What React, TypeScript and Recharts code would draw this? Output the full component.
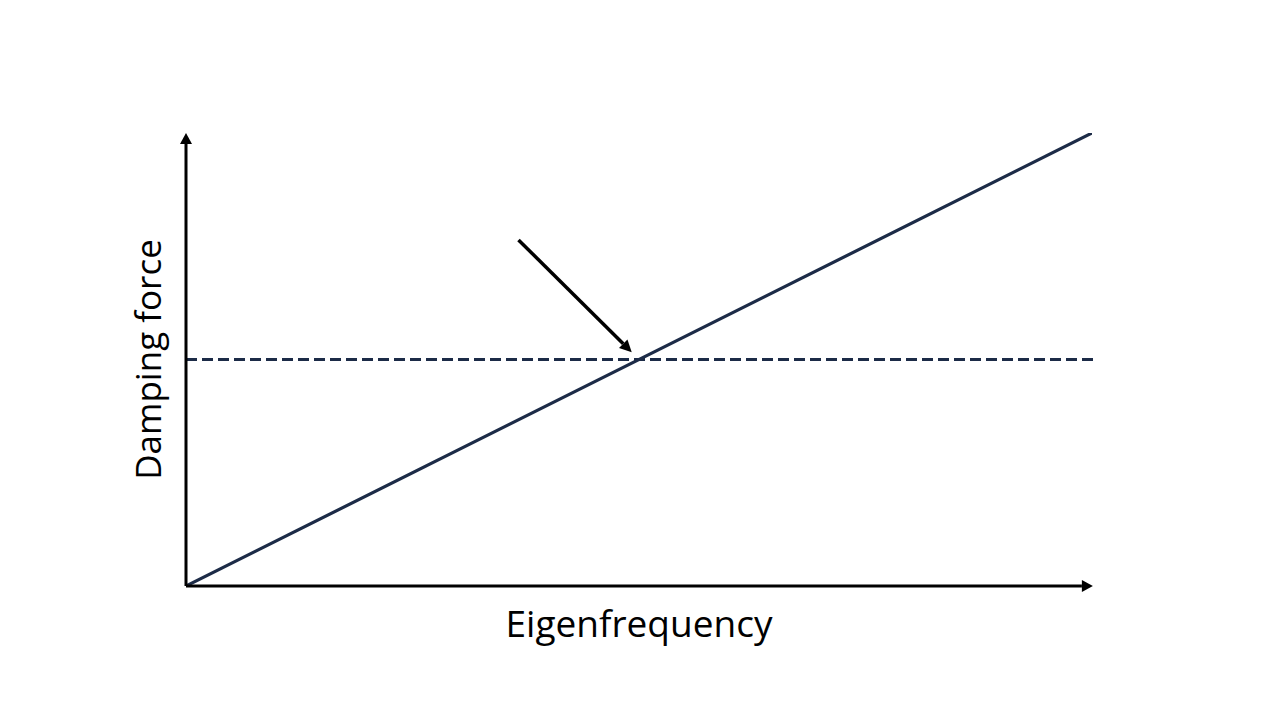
import { LineChart, Line, XAxis, YAxis, ReferenceLine } from "recharts";

// values (arbitrary units, axes have no ticks)
const eigenfrequency = [0, 10];
const dampingForce = [0, 10];
const criticalLevel = 5;
const dashEnd = 10.03;
const xAxisEnd = 10.01;
const yAxisEnd = 10.0;
const pointerFrom = { x: 3.67, y: 7.64 };
const pointerTo = { x: 4.92, y: 5.16 };

const chartData = eigenfrequency.map((f, i) => ({ f, force: dampingForce[i] }));

const NAVY = "#1c2b47";
const FONT = "'Open Sans', sans-serif";

// line with a filled triangular head at (x2, y2)
const arrowShape = (strokeWidth: number, headLen: number, headHalf: number) => (props: any) => {
  const { x1, y1, x2, y2 } = props;
  const ang = Math.atan2(y2 - y1, x2 - x1);
  const bx = x2 - headLen * Math.cos(ang);
  const by = y2 - headLen * Math.sin(ang);
  const px = -Math.sin(ang) * headHalf;
  const py = Math.cos(ang) * headHalf;
  return (
    <g>
      <line x1={x1} y1={y1} x2={bx} y2={by} stroke="#000" strokeWidth={strokeWidth} />
      <polygon points={`${x2},${y2} ${bx + px},${by + py} ${bx - px},${by - py}`} fill="#000" />
    </g>
  );
};

export default function App() {
  return (
    <div style={{ position: "absolute", left: 0, top: 0, width: 1280, height: 720, background: "#fff" }}>
      <LineChart
        width={1280}
        height={720}
        data={chartData}
        margin={{ top: 133, right: 188, bottom: 74, left: 112 }}
      >
        <XAxis
          dataKey="f"
          type="number"
          domain={[0, 10]}
          allowDataOverflow
          tick={false}
          tickLine={false}
          axisLine={false}
          height={60}
          label={{
            value: "Eigenfrequency",
            position: "insideBottom",
            offset: 9,
            fill: "#000",
            fontSize: 37,
            fontFamily: FONT,
          }}
        />
        <YAxis
          type="number"
          domain={[0, 10]}
          allowDataOverflow
          tick={false}
          tickLine={false}
          axisLine={false}
          width={74}
          label={{
            value: "Damping force",
            position: "center",
            angle: -90,
            fill: "#000",
            fontSize: 35,
            fontFamily: FONT,
          }}
        />

        {/* critical level */}
        <ReferenceLine
          segment={[
            { x: 0, y: criticalLevel },
            { x: dashEnd, y: criticalLevel },
          ]}
          stroke={NAVY}
          strokeWidth={3}
          strokeDasharray="11 5"
          ifOverflow="visible"
        />

        <Line
          type="linear"
          dataKey="force"
          stroke={NAVY}
          strokeWidth={3.2}
          dot={false}
          activeDot={false}
          isAnimationActive={false}
        />

        {/* axes with arrow heads */}
        <ReferenceLine
          segment={[
            { x: 0, y: 0 },
            { x: xAxisEnd, y: 0 },
          ]}
          ifOverflow="visible"
          shape={arrowShape(3, 11, 6)}
        />
        <ReferenceLine
          segment={[
            { x: 0, y: 0 },
            { x: 0, y: yAxisEnd },
          ]}
          ifOverflow="visible"
          shape={arrowShape(3, 11, 6)}
        />

        {/* pointer to intersection */}
        <ReferenceLine
          segment={[pointerFrom, pointerTo]}
          ifOverflow="visible"
          shape={arrowShape(3.5, 12, 6)}
        />
      </LineChart>
    </div>
  );
}
